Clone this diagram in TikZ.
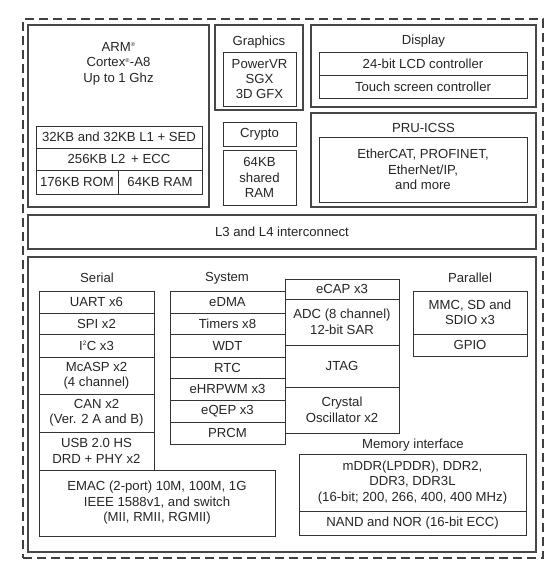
\documentclass[tikz,border=0pt]{standalone}
\usepackage{fontspec}
\setmainfont{Liberation Sans}
\newcommand\blk[7]{\node[#1, minimum width={(#5-#3)*1bp}, minimum height={(#6-#4)*1bp}] (#2) at ({(#3+#5)/2},{(#4+#6)/2}) {#7};}
\newcommand\sreg{\textsuperscript{\scalebox{0.6}{®}}}
\begin{document}
\begin{tikzpicture}[x=1bp,y=-1bp,
  every node/.style={font=\fontsize{13.2}{15.5}\selectfont, text=black!85, inner sep=0pt, align=center},
  bigbox/.style={draw=black!72, line width=2.2bp},
  smallbox/.style={draw=black!80, line width=0.9bp},
  outerbox/.style={draw=black!75, line width=1.3bp, dash pattern=on 9bp off 5bp},
  lbl/.style={}]
\useasboundingbox (0,0) rectangle (556,573);
\fill[white] (0,0) rectangle (556,573);
\blk{outerbox}{outer}{23}{19}{543}{558}{}
% ARM
\blk{bigbox}{arm}{28}{25}{209}{207}{}
\node[lbl] (armtxt) at (118.5,63.5) {ARM\sreg\\Cortex\sreg-A8\\Up to 1 Ghz};
\blk{smallbox}{l1}{36}{126}{202}{148}{32KB and 32KB L1 + SED}
\blk{smallbox}{l2}{36}{148}{202}{170}{256KB L2\, + ECC}
\blk{smallbox}{rom}{36}{170}{118}{194}{176KB ROM}
\blk{smallbox}{ram}{118}{170}{202}{194}{64KB RAM}
% Graphics
\blk{bigbox}{gfx}{215}{25}{303}{110}{}
\node[lbl] (gfxtxt) at (259,42) {Graphics};
\blk{smallbox}{sgx}{223}{52}{296}{106}{PowerVR\\SGX\\3D GFX}
\blk{smallbox}{crypto}{223}{122}{296}{146}{Crypto}
\blk{smallbox}{shram}{223}{150}{296}{205}{64KB\\shared\\RAM}
% Display
\blk{bigbox}{disp}{311}{25}{536}{107}{}
\node[lbl] (disptxt) at (423.5,41) {Display};
\blk{smallbox}{lcd}{319}{52}{527}{75}{24-bit LCD controller}
\blk{smallbox}{touch}{319}{75}{527}{98}{Touch screen controller}
% PRU
\blk{bigbox}{pru}{311}{113}{536}{207}{}
\node[lbl] (prutxt) at (423.5,128) {PRU-ICSS};
\blk{smallbox}{eth}{319}{137}{527}{202}{EtherCAT, PROFINET,\\EtherNet/IP,\\and more}
% interconnect
\blk{bigbox}{l3}{28}{215}{536}{249}{L3 and L4 interconnect}
% bottom
\blk{bigbox}{periph}{28}{257}{536}{552}{}
\node[lbl] (sertxt) at (97,278) {Serial};
\node[lbl] (systxt) at (227,278) {System};
\node[lbl] (partxt) at (470,278) {Parallel};
\node[lbl] (memtxt) at (413,445) {Memory interface};
% Serial
\blk{smallbox}{uart}{39}{291}{154}{313}{UART x6}
\blk{smallbox}{spi}{39}{313}{154}{334}{SPI x2}
\blk{smallbox}{iic}{39}{334}{154}{357}{I\textsuperscript{\scalebox{0.7}{2}}C x3}
\blk{smallbox}{mcasp}{39}{357}{154}{394}{McASP x2\\(4 channel)}
\blk{smallbox}{can}{39}{394}{154}{432}{CAN x2\\(Ver. 2 A and B)}
\blk{smallbox}{usb}{39}{432}{154}{470}{USB 2.0 HS\\DRD + PHY x2}
\blk{smallbox}{emac}{39}{470}{275}{536}{EMAC (2-port) 10M, 100M, 1G\\IEEE 1588v1, and switch\\(MII, RMII, RGMII)}
% System
\blk{smallbox}{edma}{170}{291}{285}{313}{eDMA}
\blk{smallbox}{timers}{170}{313}{285}{334}{Timers x8}
\blk{smallbox}{wdt}{170}{334}{285}{357}{WDT}
\blk{smallbox}{rtc}{170}{357}{285}{378}{RTC}
\blk{smallbox}{pwm}{170}{378}{285}{400}{eHRPWM x3}
\blk{smallbox}{eqep}{170}{400}{285}{422}{eQEP x3}
\blk{smallbox}{prcm}{170}{422}{285}{444}{PRCM}
% middle
\blk{smallbox}{ecap}{285}{279}{399}{299}{eCAP x3}
\blk{smallbox}{adc}{285}{299}{399}{345}{ADC (8 channel)\\12-bit SAR}
\blk{smallbox}{jtag}{285}{345}{399}{387}{JTAG}
\blk{smallbox}{xtal}{285}{387}{399}{433}{Crystal\\Oscillator x2}
% Parallel
\blk{smallbox}{mmc}{413}{291}{527}{334}{MMC, SD and\\SDIO x3}
\blk{smallbox}{gpio}{413}{334}{527}{356}{GPIO}
% Memory
\blk{smallbox}{ddr}{299}{454}{526}{511}{mDDR(LPDDR), DDR2,\\DDR3, DDR3L\\(16-bit; 200, 266, 400, 400 MHz)}
\blk{smallbox}{nand}{299}{511}{526}{535}{NAND and NOR (16-bit ECC)}
\end{tikzpicture}
\end{document}
